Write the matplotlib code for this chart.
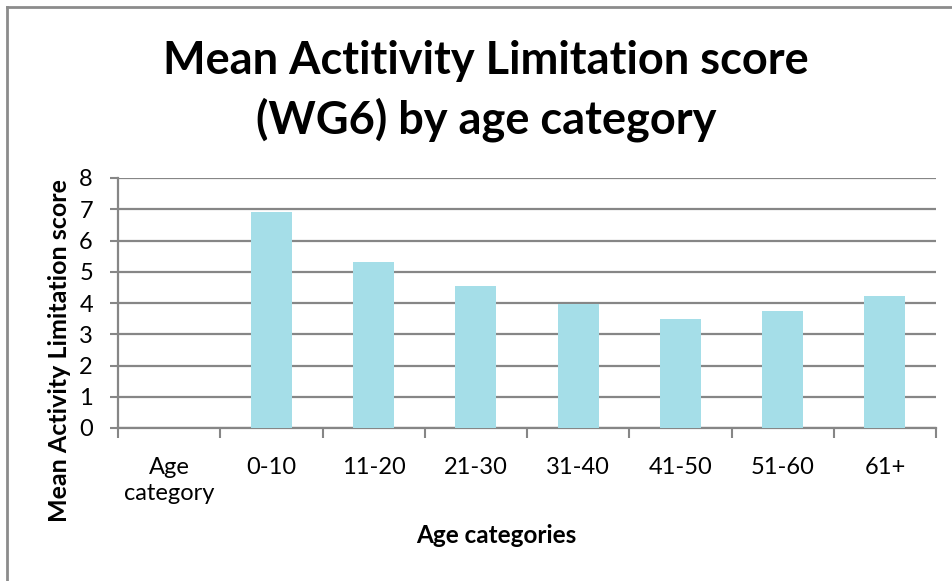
import matplotlib
matplotlib.use("Agg")
import matplotlib.pyplot as plt
from matplotlib.lines import Line2D

plt.rcParams['font.family'] = ['Lato', 'DejaVu Sans']

# data
categories = ["Age\ncategory", "0-10", "11-20", "21-30", "31-40", "41-50", "51-60", "61+"]
mean_scores = [0, 6.91, 5.31, 4.53, 3.96, 3.49, 3.73, 4.21]
y_ticks = [0, 1, 2, 3, 4, 5, 6, 7, 8]

W, H = 952, 581
fig = plt.figure(figsize=(W / 100, H / 100), dpi=100)

# axes box in pixels: left 118, right 936, top 178, bottom 428
ax = fig.add_axes([118 / W, 1 - 428 / H, (936 - 118) / W, (428 - 178) / H])

x = list(range(len(categories)))
ax.bar(x, mean_scores, width=0.4, color="#A5DEE8", zorder=3)

ax.set_xlim(-0.5, len(categories) - 0.5)
ax.set_ylim(0, 8)
ax.set_yticks(y_ticks)
ax.set_yticklabels([str(t) for t in y_ticks], fontsize=17)

# category labels centred, tick marks on the boundaries
ax.set_xticks(x)
ax.set_xticklabels(categories, fontsize=17, va="top", linespacing=1.3)
ax.tick_params(axis="x", which="major", length=0, pad=21)
ax.set_xticks([i - 0.5 for i in range(len(categories) + 1)], minor=True)
ax.tick_params(axis="x", which="minor", length=7, width=1.5, color="#868686", direction="out")
ax.tick_params(axis="y", length=6, width=1.5, color="#868686", pad=12)

ax.grid(axis="y", color="#868686", linewidth=1.6, zorder=0)
for side in ["top", "right"]:
    ax.spines[side].set_visible(False)
for side in ["left", "bottom"]:
    ax.spines[side].set_color("#868686")
    ax.spines[side].set_linewidth(1.6)

ax.set_xlabel("Age categories", fontsize=17.5, fontweight="bold")
ax.xaxis.set_label_coords(0.462, -0.385)
ax.set_ylabel("Mean Activity Limitation score", fontsize=18, fontweight="bold")
ax.yaxis.set_label_coords(-0.058, 0.31)

fig.text(486 / W, 1 - 91 / H, "Mean Actitivity Limitation score\n(WG6) by age category",
         ha="center", va="center", fontsize=32.5, fontweight="bold", linespacing=1.4)

# outer chart border (left and top edges visible)
fig.add_artist(Line2D([7 / W, 7 / W], [0, 1 - 7 / H], transform=fig.transFigure,
                      color="#8c8c8c", linewidth=2))
fig.add_artist(Line2D([7 / W, 1], [1 - 7 / H, 1 - 7 / H], transform=fig.transFigure,
                      color="#8c8c8c", linewidth=2))

fig.savefig("out.png", dpi=100)
